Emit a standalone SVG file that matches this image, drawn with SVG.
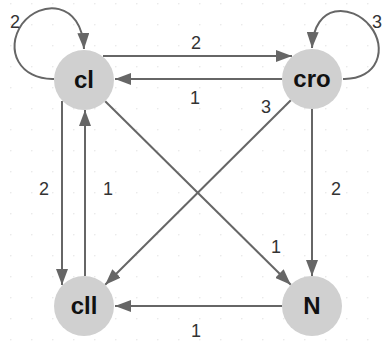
<svg xmlns="http://www.w3.org/2000/svg" width="382" height="344" viewBox="0 0 382 344">
<style>
.edge{fill:none;stroke:#666;stroke-width:2;marker-end:url(#ah)}
.node circle{fill:#d0d0d0}
.node text{font-family:"Liberation Sans",Arial,sans-serif;font-weight:bold;font-size:24px;fill:#111;text-anchor:middle}
.lbl{font-family:"Liberation Sans",Arial,sans-serif;font-size:18px;fill:#333;text-anchor:middle}
</style>
<defs>
<pattern id="grid" x="10" y="3" width="21" height="21" patternUnits="userSpaceOnUse">
<circle cx="0.8" cy="0.8" r="0.8" fill="#e6e6e6"/>
</pattern>
<marker id="ah" markerWidth="16" markerHeight="12" refX="16" refY="6" orient="auto" markerUnits="userSpaceOnUse">
<path d="M0,0 L16,6 L0,12 z" fill="#666"/>
</marker>
</defs>
<rect width="382" height="344" fill="#fff"/>
<rect width="382" height="344" fill="url(#grid)"/>
<g id="connectors">
<path class="edge" d="M54,79 C20,80 4,50 22,24 C40,0 82,0 84,49"/>
<path class="edge" d="M343,79 C378,80 388,48 370,26 C352,4 314,2 312,48"/>
<path class="edge" d="M103,56 L292,56"/>
<path class="edge" d="M282,79 L115,79"/>
<path class="edge" d="M62,101 L62,285"/>
<path class="edge" d="M85,276 L85,110"/>
<path class="edge" d="M105.2,101.2 L290.8,284.8"/>
<path class="edge" d="M290.8,100.2 L105.2,284.8"/>
<path class="edge" d="M312,109 L312,276"/>
<path class="edge" d="M282,306 L115,306"/>
<text class="lbl" x="15" y="28">2</text>
<text class="lbl" x="377" y="28">3</text>
<text class="lbl" x="196" y="49">2</text>
<text class="lbl" x="195" y="104">1</text>
<text class="lbl" x="266" y="113">3</text>
<text class="lbl" x="44" y="195">2</text>
<text class="lbl" x="108" y="195">1</text>
<text class="lbl" x="336" y="195">2</text>
<text class="lbl" x="276" y="253">1</text>
<text class="lbl" x="196" y="337">1</text>
</g>
<g id="cl" class="node"><circle cx="84" cy="80" r="30"/><text x="84" y="88">cl</text></g>
<g id="cro" class="node"><circle cx="312" cy="79" r="30"/><text x="312" y="87">cro</text></g>
<g id="cll" class="node"><circle cx="84" cy="306" r="30"/><text x="84" y="314">cll</text></g>
<g id="N" class="node"><circle cx="312" cy="306" r="30"/><text x="312" y="314">N</text></g>
</svg>
